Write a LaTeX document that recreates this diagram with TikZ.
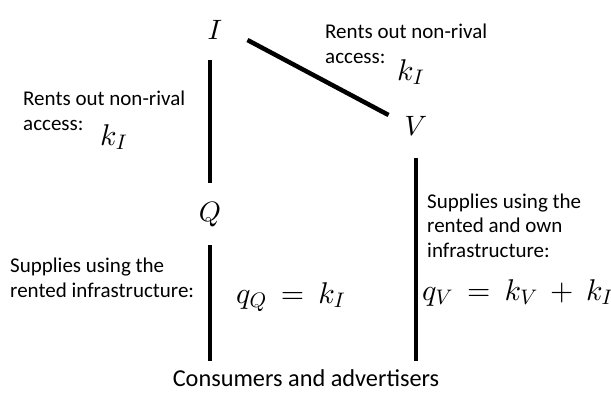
\RequirePackage{fix-cm}
\documentclass[tikz,border=0pt]{standalone}
\usepackage{fontspec}
\setmainfont{Carlito}
\DeclareFontShape{OML}{cmm}{m}{it}{<->cmmi10}{}
\DeclareFontShape{OT1}{cmr}{m}{n}{<->cmr10}{}
\newcommand{\eqsp}{\mkern3.5mu}
\begin{document}
\begin{tikzpicture}[x=1pt,y=-1pt,
  link/.style={line width=4.5pt},
  letter/.style={inner sep=0pt, font=\fontsize{28}{33}\selectfont},
  lbl/.style={inner sep=0pt, anchor=base west, align=left, font=\fontsize{21}{24.5}\selectfont},
  eqn/.style={inner sep=0pt, anchor=base west, font=\fontsize{30}{35}\selectfont},
  bigtext/.style={inner sep=0pt, font=\fontsize{24.3}{28}\selectfont}]
\useasboundingbox (0,0) rectangle (611,394);
\node[letter] (I) at (215,30) {$I$};
\node[letter] (Q) at (210,215) {$Q$};
\node[letter] (V) at (416,126) {$V$};
\node[bigtext] (C) at (306,378) {Consumers and advertisers};
\draw[link, shorten <=20pt, shorten >=20pt] (I.south -| Q.north) -- (Q.north);
\draw[link, shorten <=18pt, shorten >=8pt] (Q.south) -- (Q.south |- C.north);
\draw[link, shorten <=22pt, shorten >=8pt] (V.south) -- (V.south |- C.north);
\draw[link] ([xshift=25pt,yshift=-10pt]I.east) -- ([xshift=-16pt,yshift=11pt]V.west);
\node[lbl] (lt) at (23,130) {Rents out non-rival\\access:};
\node[eqn] (lk) at (100,145) {$k_I$};
\node[lbl] (rt) at (325,63) {Rents out non-rival\\access:};
\node[eqn] (rk) at (397,80) {$k_I$};
\node[lbl] (lb) at (10,297) {Supplies using the\\rented infrastructure:};
\node[eqn] (qq) at (236,303) {$q_Q \eqsp=\eqsp k_I$};
\node[lbl] (rb) at (427,257) {Supplies using the\\rented and own\\infrastructure:};
\node[eqn] (qv) at (422,300) {$q_V \eqsp=\eqsp k_V \eqsp+\eqsp k_I$};
\end{tikzpicture}
\end{document}
